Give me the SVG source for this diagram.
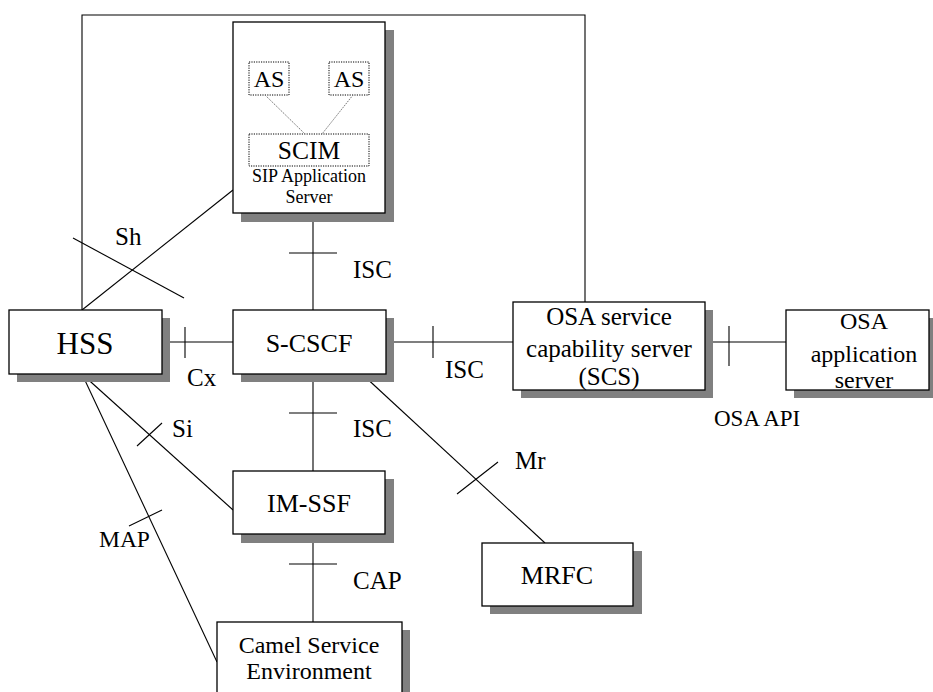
<svg xmlns="http://www.w3.org/2000/svg" width="933" height="692" viewBox="0 0 933 692">
<style>
.box{fill:#fff;stroke:#000;stroke-width:1.3}
.sh{fill:#808080}
.dot{fill:none;stroke:#000;stroke-width:1;stroke-dasharray:1.2,1.2}
.ln{stroke:#000;stroke-width:1.1;fill:none}
.dl{stroke:#777;stroke-width:1;stroke-dasharray:1.5,1}
text{font-family:"Liberation Serif","Times New Roman",serif;fill:#000}
.n{text-anchor:middle;font-size:26px}
.lb{font-size:25px}
</style>
<rect width="933" height="692" fill="#fff"/>
<g id="connectors">
<polyline class="ln" points="82,310 82,15 585,15 585,302"/>
<line class="ln" x1="82" y1="310" x2="233" y2="190"/>
<line class="ln" x1="73" y1="238" x2="184" y2="298"/>
<line class="ln" x1="313" y1="213" x2="313" y2="310"/>
<line class="ln" x1="289" y1="253" x2="337" y2="253"/>
<line class="ln" x1="162" y1="342" x2="233" y2="342"/>
<line class="ln" x1="185" y1="327" x2="185" y2="358"/>
<line class="ln" x1="386" y1="342" x2="513" y2="342"/>
<line class="ln" x1="433" y1="326" x2="433" y2="358"/>
<line class="ln" x1="705" y1="342" x2="786" y2="342"/>
<line class="ln" x1="729" y1="326" x2="729" y2="366"/>
<line class="ln" x1="313" y1="374" x2="313" y2="471"/>
<line class="ln" x1="289" y1="413" x2="337" y2="413"/>
<line class="ln" x1="313" y1="534" x2="313" y2="622"/>
<line class="ln" x1="289" y1="564" x2="337" y2="564"/>
<line class="ln" x1="362" y1="374" x2="545" y2="543"/>
<line class="ln" x1="457" y1="494" x2="498" y2="462"/>
<line class="ln" x1="82" y1="374" x2="233" y2="510"/>
<line class="ln" x1="137" y1="446" x2="162" y2="423"/>
<line class="ln" x1="82" y1="374" x2="217" y2="662"/>
<line class="ln" x1="129" y1="526" x2="162" y2="510"/>
<text class="lb" x="115" y="245">Sh</text>
<text class="lb" x="353" y="278">ISC</text>
<text class="lb" x="187" y="386">Cx</text>
<text class="lb" x="445" y="378">ISC</text>
<text x="714" y="426" style="font-size:23px">OSA API</text>
<text class="lb" x="353" y="437">ISC</text>
<text class="lb" x="172" y="437">Si</text>
<text class="lb" x="515" y="469">Mr</text>
<text class="lb" x="99" y="547" style="font-size:23.5px">MAP</text>
<text class="lb" x="353" y="589">CAP</text>
</g>
<g id="sip-as">
<rect class="sh" x="241" y="30" width="153" height="192"/>
<rect class="box" x="233" y="22" width="152" height="191"/>
<rect class="dot" x="249" y="62" width="40" height="33"/>
<rect class="dot" x="329" y="62" width="40" height="33"/>
<rect class="dot" x="249" y="134" width="120" height="32"/>
<line class="dl" x1="265" y1="95" x2="305" y2="134"/>
<line class="dl" x1="353" y1="95" x2="322" y2="134"/>
<text x="269" y="87" style="text-anchor:middle;font-size:24px">AS</text>
<text x="349" y="87" style="text-anchor:middle;font-size:24px">AS</text>
<text x="309" y="159" style="text-anchor:middle;font-size:25.5px">SCIM</text>
<text x="309" y="182" style="text-anchor:middle;font-size:18px">SIP Application</text>
<text x="309" y="203" style="text-anchor:middle;font-size:18px">Server</text>
</g>
<g id="hss">
<rect class="sh" x="17" y="318" width="153" height="64"/>
<rect class="box" x="9" y="310" width="153" height="64"/>
<text x="85" y="354" style="text-anchor:middle;font-size:31px">HSS</text>
</g>
<g id="s-cscf">
<rect class="sh" x="241" y="318" width="153" height="64"/>
<rect class="box" x="233" y="310" width="153" height="64"/>
<text class="n" x="309" y="352">S-CSCF</text>
</g>
<g id="osa-scs">
<rect class="sh" x="521" y="310" width="192" height="88"/>
<rect class="box" x="513" y="302" width="192" height="88"/>
<text x="609" y="325" style="text-anchor:middle;font-size:25px">OSA service</text>
<text x="609" y="357" style="text-anchor:middle;font-size:25px">capability server</text>
<text x="609" y="385" style="text-anchor:middle;font-size:25px">(SCS)</text>
</g>
<g id="osa-app">
<rect class="sh" x="794" y="318" width="145" height="80"/>
<rect class="box" x="786" y="310" width="143" height="80"/>
<text x="864" y="329" style="text-anchor:middle;font-size:24px">OSA</text>
<text x="864" y="362" style="text-anchor:middle;font-size:24px">application</text>
<text x="864" y="388" style="text-anchor:middle;font-size:24px">server</text>
</g>
<g id="im-ssf">
<rect class="sh" x="241" y="479" width="153" height="64"/>
<rect class="box" x="233" y="471" width="152" height="63"/>
<text class="n" x="309" y="512">IM-SSF</text>
</g>
<g id="mrfc">
<rect class="sh" x="490" y="551" width="152" height="63"/>
<rect class="box" x="482" y="543" width="151" height="63"/>
<text class="n" x="557" y="584">MRFC</text>
</g>
<g id="camel">
<rect class="sh" x="225" y="630" width="185" height="70"/>
<rect class="box" x="217" y="622" width="185" height="75"/>
<text x="309" y="653" style="text-anchor:middle;font-size:24px">Camel Service</text>
<text x="309" y="679" style="text-anchor:middle;font-size:24px">Environment</text>
</g>
</svg>
